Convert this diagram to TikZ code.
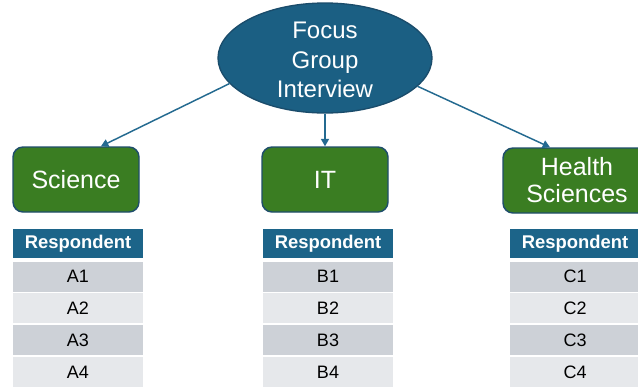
\documentclass[tikz,border=0pt]{standalone}
\usepackage{fontspec}
\setmainfont{Liberation Sans}
\usetikzlibrary{shapes.geometric,arrows.meta}
\definecolor{fgblue}{HTML}{1B5F83}
\definecolor{fgedge}{HTML}{1A4C6B}
\definecolor{grp}{HTML}{3A7D22}
\definecolor{grpedge}{HTML}{1F4E6B}
\definecolor{arrowc}{HTML}{246A90}
\definecolor{hdr}{HTML}{1C6489}
\definecolor{rowdark}{HTML}{CDD1D7}
\definecolor{rowlight}{HTML}{E6E8EB}
\begin{document}
\begin{tikzpicture}[x=0.75pt,y=-0.75pt,
  topic/.style={ellipse, draw=fgedge, line width=1pt, fill=fgblue,
    minimum width=214*0.75pt, minimum height=110*0.75pt, inner sep=0pt},
  topictext/.style={text=white, align=center, inner sep=0pt,
    font=\fontsize{18}{22}\selectfont},
  groupbox/.style={draw=grpedge, line width=1.1pt, fill=grp,
    rounded corners=7.5pt, minimum height=65*0.75pt, text=white,
    align=center, inner sep=0pt, font=\fontsize{18.75}{20.3}\selectfont},
  cell/.style={minimum width=130*0.75pt, inner sep=0pt, anchor=center},
  hdrcell/.style={cell, fill=hdr, text=white, minimum height=29*0.75pt,
    font=\fontsize{13.8}{15}\selectfont\bfseries},
  darkrow/.style={cell, fill=rowdark, minimum height=30*0.75pt,
    font=\fontsize{13.5}{15}\selectfont},
  lightrow/.style={cell, fill=rowlight, minimum height=30*0.75pt,
    font=\fontsize{13.5}{15}\selectfont},
  conn/.style={draw=arrowc, line width=1.1pt,
    -{Triangle[length=5.5pt,width=6pt]}}
]
\useasboundingbox (0,0) rectangle (638,386);
\clip (0,0) rectangle (638,386);
\fill[white] (0,0) rectangle (638,386);

% central topic
\node[topic] (fgi) at (325,58) {};
\node[topictext] (fgitxt) at (325,60) {Focus\\Group\\Interview};

% groups
\node[groupbox, minimum width=126*0.75pt] (sci) at (76,179.5) {Science};
\node[groupbox, minimum width=126*0.75pt] (it) at (325,179.5) {IT};
\node[groupbox, minimum width=148*0.75pt] (hs) at (577,180.5) {Health\\Sciences};

% connectors
\draw[conn] (fgi.195) -- ([xshift=18.75pt]sci.north);
\draw[conn] (fgi.south) -- (it.north);
\draw[conn] (fgi.343) -- ([xshift=-20.25pt]hs.north);

% respondent tables
\foreach \t/\cx/\l in {a/78/A, b/328/B, c/575/C}{
  \node[hdrcell] (\t h) at (\cx,243.5) {Respondent};
  \node[darkrow]  (\t 1) at (\cx,276.5) {\l1};
  \node[lightrow] (\t 2) at (\cx,308) {\l2};
  \node[darkrow]  (\t 3) at (\cx,340) {\l3};
  \node[lightrow] (\t 4) at (\cx,372) {\l4};
}
\end{tikzpicture}
\end{document}
